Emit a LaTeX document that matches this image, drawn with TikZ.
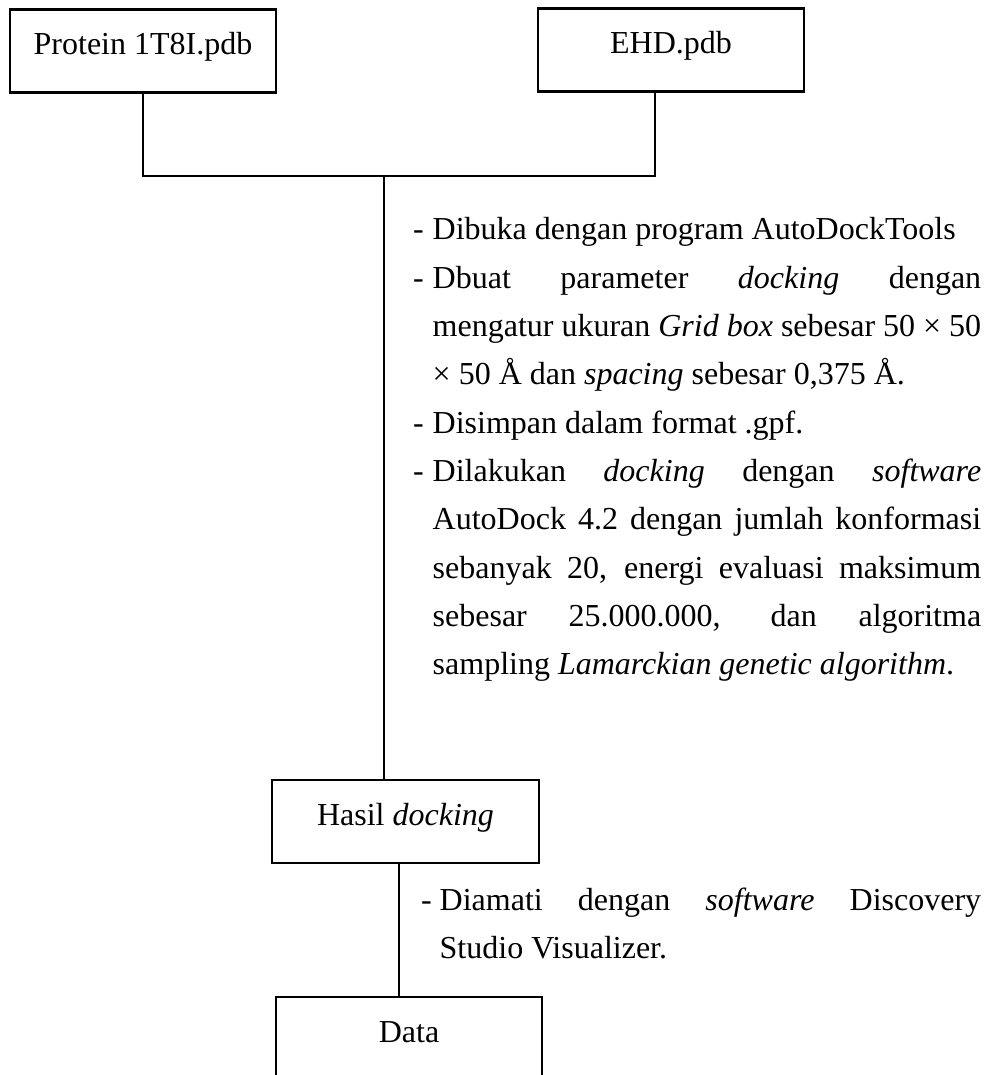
\documentclass[tikz,border=0pt]{standalone}
\usepackage{fontspec}
\setmainfont{Liberation Serif}
% one hanging-indent paragraph introduced by a dash
\newcommand\dashpara[2]{\noindent\hangindent=#1\hangafter=1\makebox[#1][l]{-}#2\par}

\begin{document}
\begin{tikzpicture}[x=1pt,y=-1pt,
  every node/.style={font=\fontsize{32}{48.3}\selectfont},
  flowbox/.style={draw, line width=2.8pt, inner sep=0pt, minimum width=266pt,
    minimum height=83pt, text height=45pt, text depth=38pt},
  wire/.style={line width=1.2pt},
  notes/.style={anchor=base west, inner sep=0pt, align=justify}]

\useasboundingbox (0,0) rectangle (993,1075);
\clip (0,0) rectangle (993,1075);

% boxes
\node[flowbox] (prot) at (143,50.75) {Protein 1T8I.pdb};
\node[flowbox] (ehd) at (671,49.75) {EHD.pdb};
\node[flowbox, minimum width=267pt] (hasil) at (405.5,821.5) {Hasil \textit{docking}};
\node[flowbox] (data) at (409,1038.5) {Data};

% connectors
\coordinate (join) at (384,176);
\coordinate (ehdleg) at ([xshift=-16pt]ehd.south);
\coordinate (hasilleg) at ([xshift=-6.5pt]hasil.south);
\draw[wire] (prot.south) |- (join) -| (ehdleg);
\draw[wire] (join) -- (join |- hasil.north);
\draw[wire] (hasilleg) -- (hasilleg |- data.north);

% procedure notes
\node[notes, text width=568pt] (steps) at (413,240) {%
  \dashpara{19.5pt}{Dibuka dengan program AutoDockTools}%
  \dashpara{19.5pt}{Dbuat parameter \textit{docking} dengan\linebreak
    mengatur ukuran \textit{Grid box} sebesar 50 × 50\linebreak
    × 50 Å dan \textit{spacing} sebesar 0,375 Å.}%
  \dashpara{19.5pt}{Disimpan dalam format .gpf.}%
  \dashpara{19.5pt}{Dilakukan \textit{docking} dengan \textit{software}\linebreak
    AutoDock 4.2 dengan jumlah konformasi\linebreak
    sebanyak 20, energi evaluasi maksimum\linebreak
    sebesar 25.000.000, dan algoritma\linebreak
    sampling \textit{Lamarckian genetic algorithm}.}};

\node[notes, text width=560pt] (view) at (421,910) {%
  \dashpara{18.5pt}{Diamati dengan \textit{software} Discovery\linebreak
    Studio Visualizer.}};
\end{tikzpicture}
\end{document}
